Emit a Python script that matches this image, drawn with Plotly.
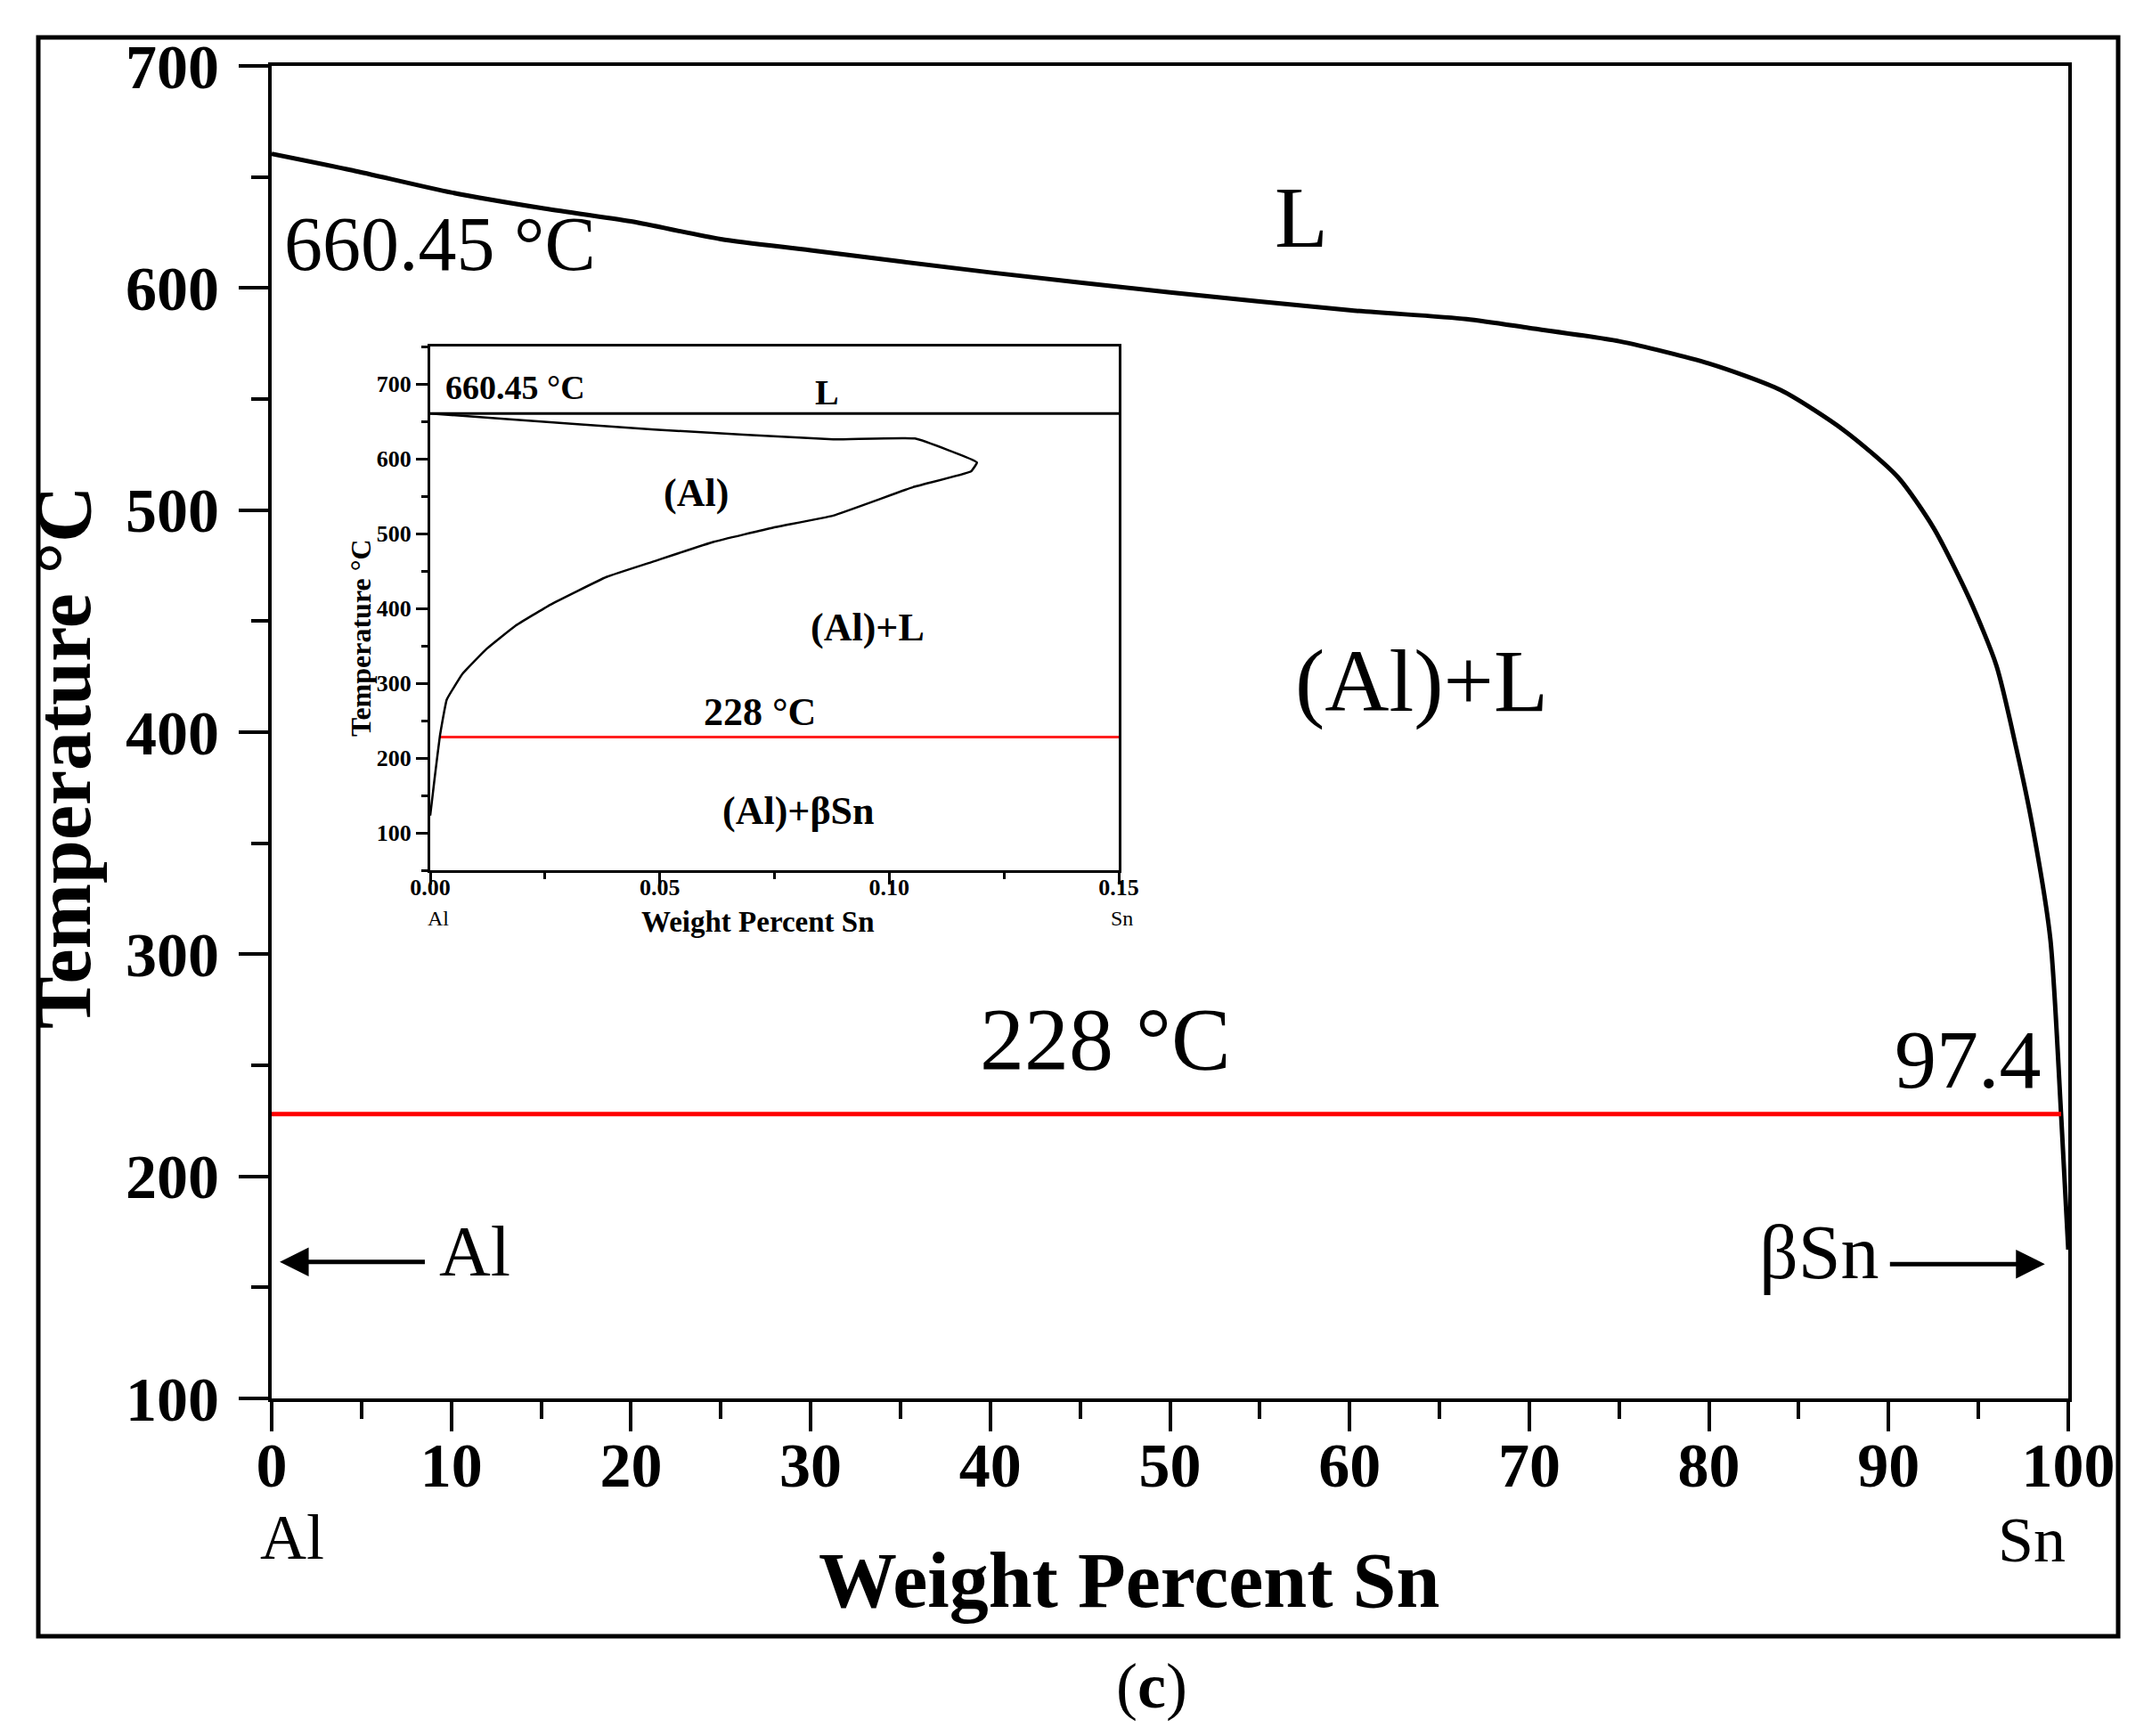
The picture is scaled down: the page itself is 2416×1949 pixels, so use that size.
import plotly.graph_objects as go

# ---------------- data ----------------
# Main diagram: liquidus of Al-Sn (wt.% Sn vs. temperature, deg C)
liq_x = [0, 4.5, 10, 15, 20, 25, 30, 40, 50, 60, 66.5, 70, 75, 80, 84, 87.5,
         90.5, 92.5, 94.5, 96.0, 97.1, 98, 99, 99.6, 100]
liq_y = [660.45, 653, 643, 636, 630, 622, 617, 607, 598, 590, 586, 582, 576,
         566, 554, 536, 515, 492, 460, 430, 393, 358, 307, 228, 167]
# Eutectic isotherm in the main diagram
eut_x = [0, 99.6]
eut_y = [228, 228]

# Inset: Al-rich corner, solidus / solvus of (Al)
ins_x = [0, 0.0167, 0.0488, 0.0878, 0.1056, 0.1191, 0.1178, 0.1052, 0.0878,
         0.0748, 0.0618, 0.0488, 0.0384, 0.0262, 0.0184, 0.0123, 0.0071,
         0.0036, 0.0021, 0.001, 0]
ins_y = [660.45, 653, 639, 626, 627, 595, 583, 562, 524, 508, 489, 463, 442,
         405, 376, 346, 313, 278, 229, 175, 123]
ins_melt_x = [0, 0.15]
ins_melt_y = [660.45, 660.45]
ins_eut_x = [0.0021, 0.15]
ins_eut_y = [228, 228]

# Axis ticks
main_xticks = [0, 10, 20, 30, 40, 50, 60, 70, 80, 90, 100]
main_yticks = [100, 200, 300, 400, 500, 600, 700]
ins_xticks = [0.00, 0.05, 0.10, 0.15]
ins_yticks = [100, 200, 300, 400, 500, 600, 700]

# ---------------- figure ----------------
W, H = 2416, 1949
SERIF = "Liberation Serif"

fig = go.Figure()
fig.add_trace(go.Scatter(x=liq_x, y=liq_y, mode="lines",
                         line=dict(color="black", width=5, shape="spline", smoothing=0.7),
                         xaxis="x", yaxis="y", showlegend=False, hoverinfo="skip"))
fig.add_trace(go.Scatter(x=eut_x, y=eut_y, mode="lines",
                         line=dict(color="#ff0000", width=5),
                         xaxis="x", yaxis="y", showlegend=False, hoverinfo="skip"))
fig.add_trace(go.Scatter(x=ins_melt_x, y=ins_melt_y, mode="lines",
                         line=dict(color="black", width=3),
                         xaxis="x2", yaxis="y2", showlegend=False, hoverinfo="skip"))
fig.add_trace(go.Scatter(x=ins_eut_x, y=ins_eut_y, mode="lines",
                         line=dict(color="#ff2020", width=3),
                         xaxis="x2", yaxis="y2", showlegend=False, hoverinfo="skip"))
fig.add_trace(go.Scatter(x=ins_x, y=ins_y, mode="lines",
                         line=dict(color="black", width=2.5, shape="spline", smoothing=0.3),
                         xaxis="x2", yaxis="y2", showlegend=False, hoverinfo="skip"))

tick_main = dict(family=SERIF, size=70, color="black", weight="bold")
tick_ins = dict(family=SERIF, size=26, color="black", weight="bold")

main_x_dom = [297 / W, 2314 / W]
main_y_dom = [(H - 1562) / H, (H - 66) / H]
ins_x_dom = [475 / W, 1248 / W]
ins_y_dom = [(H - 969) / H, (H - 381) / H]

fig.update_layout(
    template="none",
    width=W, height=H, autosize=False,
    margin=dict(l=0, r=0, t=0, b=0, pad=0),
    paper_bgcolor="white", plot_bgcolor="white",
    showlegend=False,
    xaxis=dict(domain=main_x_dom, range=[0, 100], anchor="y", automargin=False,
               showline=True, linecolor="black", linewidth=4, mirror=True,
               ticks="outside", ticklen=33, tickwidth=4, tickcolor="black",
               tickvals=main_xticks, ticktext=[str(v) for v in main_xticks],
               ticklabelstandoff=-22,
               minor=dict(dtick=5, tick0=0, ticks="outside", ticklen=19, tickwidth=4, tickcolor="black"),
               showgrid=False, zeroline=False, tickfont=tick_main),
    yaxis=dict(domain=main_y_dom, range=[100, 700], anchor="x", automargin=False,
               showline=True, linecolor="black", linewidth=4, mirror=True,
               ticks="outside", ticklen=33, tickwidth=4, tickcolor="black",
               tickvals=main_yticks, ticktext=[str(v) for v in main_yticks],
               ticklabelstandoff=8,
               minor=dict(dtick=50, tick0=0, ticks="outside", ticklen=19, tickwidth=4, tickcolor="black"),
               showgrid=False, zeroline=False, tickfont=tick_main),
    xaxis2=dict(domain=ins_x_dom, range=[0, 0.15], anchor="y2", automargin=False,
                showline=True, linecolor="black", linewidth=3, mirror=True,
                ticks="outside", ticklen=13, tickwidth=2.5, tickcolor="black",
                tickvals=ins_xticks, ticktext=["%.2f" % v for v in ins_xticks],
                ticklabelstandoff=-19,
                minor=dict(dtick=0.025, tick0=0, ticks="outside", ticklen=7, tickwidth=2.5, tickcolor="black"),
                showgrid=False, zeroline=False, tickfont=tick_ins),
    yaxis2=dict(domain=ins_y_dom, range=[50, 750], anchor="x2", automargin=False,
                showline=True, linecolor="black", linewidth=3, mirror=True,
                ticks="outside", ticklen=13, tickwidth=2.5, tickcolor="black",
                tickvals=ins_yticks, ticktext=[str(v) for v in ins_yticks],
                minor=dict(dtick=50, tick0=0, ticks="outside", ticklen=7, tickwidth=2.5, tickcolor="black"),
                showgrid=False, zeroline=False, tickfont=tick_ins),
)

# outer frame
fig.add_shape(type="rect", xref="paper", yref="paper",
              x0=35 / W, x1=2370 / W, y0=(H - 1829) / H, y1=(H - 34) / H,
              line=dict(color="black", width=5), fillcolor="rgba(0,0,0,0)", layer="above")


def ann(text, x, y, size, xref="x", yref="y", xanchor="center", yanchor="middle",
        bold=False, angle=0):
    shift = round(0.1 * size)
    fig.add_annotation(text=text, x=x, y=y, xref=xref, yref=yref,
                       xanchor=xanchor, yanchor=yanchor, showarrow=False,
                       textangle=angle,
                       yshift=shift if angle == 0 else 0,
                       xshift=-shift if angle != 0 else 0,
                       font=dict(family=SERIF, size=size, color="black",
                                 weight="bold" if bold else "normal"))


# main labels
ann("660.45 °C", 0.6, 616, 86, xanchor="left")
ann("L", 57.3, 628, 98)
ann("(Al)+L", 64.0, 419, 100)
ann("228 °C", 46.4, 258, 100)
ann("97.4", 98.6, 249, 94, xanchor="right")
ann("Al", 9.2, 163, 80, xanchor="left")
ann("βSn", 89.6, 162, 86, xanchor="right")

# arrows
fig.add_annotation(x=0.45, y=161.5, ax=8.6, ay=161.5, xref="x", yref="y",
                   axref="x", ayref="y", text="", showarrow=True,
                   arrowhead=2, arrowsize=1.3, arrowwidth=5, arrowcolor="black")
fig.add_annotation(x=98.7, y=160.5, ax=90.0, ay=160.5, xref="x", yref="y",
                   axref="x", ayref="y", text="", showarrow=True,
                   arrowhead=2, arrowsize=1.3, arrowwidth=5, arrowcolor="black")

# outside labels
ann("Al", 320 / W, (H - 1725) / H, 72, xref="paper", yref="paper")
ann("Sn", 2273 / W, (H - 1728) / H, 72, xref="paper", yref="paper")
ann("Weight Percent Sn", 1259 / W, (H - 1776) / H, 88, xref="paper", yref="paper", bold=True)
ann("Temperature °C", 73 / W, (H - 842) / H, 88, xref="paper", yref="paper", bold=True, angle=-90)
ann("(<b>c</b>)", 1285 / W, (H - 1892) / H, 72, xref="paper", yref="paper")

# inset labels
ann("660.45 °C", 0.0029, 690, 38, xref="x2", yref="y2", xanchor="left", bold=True)
ann("L", 0.0864, 684, 40, xref="x2", yref="y2", bold=True)
ann("(Al)", 0.058, 549, 44, xref="x2", yref="y2", bold=True)
ann("(Al)+L", 0.0953, 370, 44, xref="x2", yref="y2", bold=True)
ann("228 °C", 0.0718, 257, 44, xref="x2", yref="y2", bold=True)
ann("(Al)+βSn", 0.0803, 124, 44, xref="x2", yref="y2", bold=True)
ann("Weight Percent Sn", 843 / W, (H - 1030) / H, 33, xref="paper", yref="paper", bold=True)
ann("Al", 484 / W, (H - 1025) / H, 24, xref="paper", yref="paper")
ann("Sn", 1251 / W, (H - 1025) / H, 24, xref="paper", yref="paper")
ann("Temperature °C", 400 / W, (H - 708) / H, 32, xref="paper", yref="paper", bold=True, angle=-90)

fig.write_html("out.html")
